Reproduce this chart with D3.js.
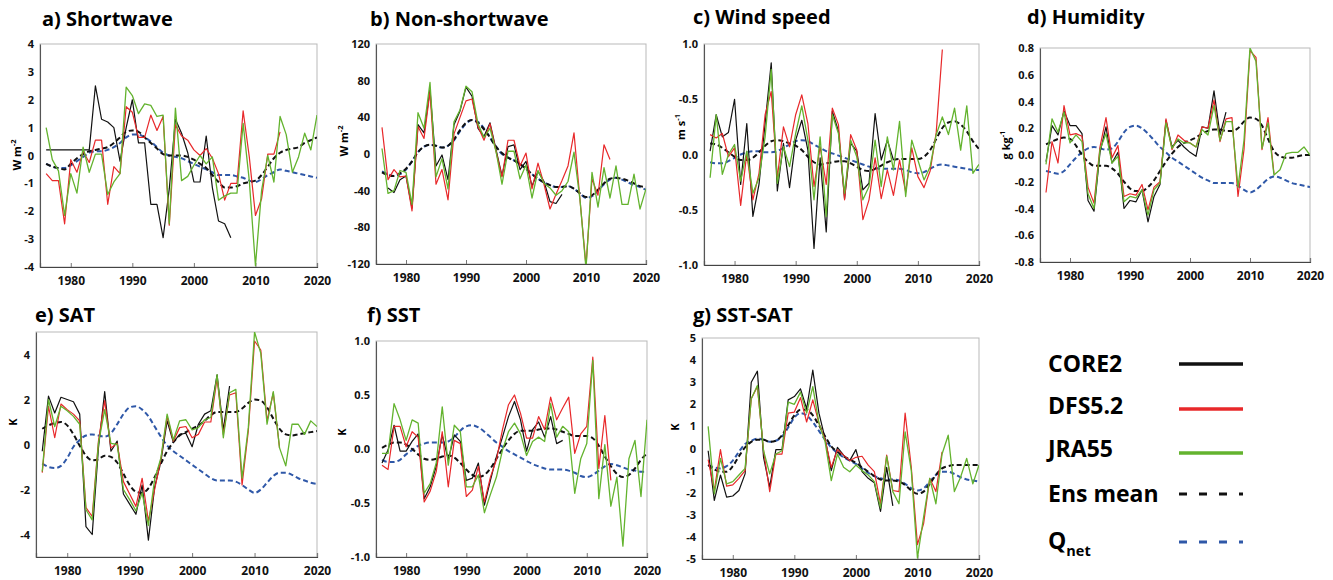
<!DOCTYPE html>
<html>
<head>
<meta charset="utf-8">
<script src="https://cdn.jsdelivr.net/npm/d3@7"></script>
<style>
  html, body { margin: 0; padding: 0; background: #fff; }
  svg { display: block; font-family: "Open Sans", "DejaVu Sans", sans-serif; }
</style>
</head>
<body>
<svg id="chart" width="1333" height="580"></svg>
<script>
// Annual anomalies, first value is 1976. CORE2 runs to 2006, DFS5.2 to 2014, JRA55 to 2020.
const startYear = 1976;
const endYear = 2020;

// a) Shortwave (W m-2)
const swCore = [0.2,0.2,0.2,0.2,0.2,0.2,0.2,0.2,2.5,1.3,1.2,1.0,-0.2,1.0,2.0,0.45,0.45,-1.75,-1.75,-2.95,-1.2,1.3,0.8,0.1,-0.95,-0.95,0.7,-1.15,-2.35,-2.45,-2.95];
const swDfs = [-0.65,-0.9,-0.9,-2.45,-0.15,-0.6,0.15,-0.25,0.55,0.55,-1.75,-0.4,-0.65,1.75,1.55,0.65,0.65,1.45,0.9,1.4,-2.5,1.1,0.7,0.55,0.2,0.0,0.25,-0.1,-0.65,-1.6,-1.0,-1.0,1.6,-0.05,-2.15,-1.55,0.05,0.05,0.85];
const swJra = [1.0,-0.15,-0.55,-2.15,-0.65,-1.35,0.3,-0.6,0.05,0.05,-1.4,-0.95,-0.65,2.45,2.15,1.5,1.85,1.8,1.4,1.45,-2.45,1.7,-0.9,-0.75,-0.35,0.0,-0.3,-0.05,-1.6,-1.45,-1.35,-1.35,1.15,-0.9,-3.95,-1.25,0.0,-0.95,1.4,0.75,-0.6,-0.05,0.8,0.2,1.45];
const swEns = [-0.3,-0.4,-0.45,-0.5,-0.3,-0.1,0.05,0.15,0.2,0.25,0.3,0.45,0.65,0.85,0.9,0.85,0.65,0.45,0.25,0.05,0.0,0.0,0.0,-0.05,-0.15,-0.3,-0.45,-0.7,-0.95,-1.15,-1.15,-1.1,-1.0,-0.95,-0.9,-0.7,-0.4,-0.1,0.1,0.2,0.25,0.3,0.45,0.55,0.65];
const swQnet = [-0.3,-0.4,-0.45,-0.45,-0.35,-0.2,-0.05,0.1,0.15,0.15,0.2,0.3,0.45,0.65,0.75,0.75,0.65,0.5,0.3,0.1,0.0,-0.05,-0.1,-0.2,-0.3,-0.4,-0.5,-0.6,-0.7,-0.7,-0.7,-0.75,-0.8,-0.9,-0.95,-0.85,-0.7,-0.6,-0.5,-0.55,-0.6,-0.65,-0.7,-0.75,-0.8];

// b) Non-shortwave (W m-2)
const nswCore = [null,-37,-42,-28,-24,-59,32,23,70,-13,-1,-28,32,47,73,63,28,19,34,5,-24,8,10,-17,-8,-35,-19,-30,-52,-54,-44];
const nswDfs = [29,-28,-17,-25,-24,-62,30,17,68,-33,-17,-50,22,40,58,60,30,15,33,3,-25,15,15,-13,1,-38,-10,-33,-60,-44,-29,-13,23,-50,-122,-27,-45,10,-6];
const nswJra = [6,-43,-40,-18,-20,-55,45,28,78,-25,-5,-38,35,48,74,68,33,18,28,3,-33,3,3,-27,-12,-48,-18,-32,-37,-45,-40,-30,2,-50,-125,-20,-58,-15,-48,-13,-55,-55,-22,-60,-38];
const nswEns = [-20,-23,-24,-21,-16,-8,2,8,10,9,7,9,16,26,34,37,34,27,18,8,1,-4,-7,-11,-16,-22,-27,-31,-34,-36,-36,-35,-38,-43,-47,-45,-39,-32,-27,-26,-27,-29,-32,-35,-36];
const nswQnet = [-19,-22,-24,-22,-17,-8,2,8,10,9,7,9,15,25,33,37,35,28,18,8,0,-4,-7,-11,-16,-22,-27,-31,-34,-36,-36,-35,-38,-43,-48,-46,-40,-33,-28,-26,-28,-31,-34,-36,-39];

// c) Wind speed (m s-1)
const wsCore = [0.03,0.36,0.16,0.2,0.5,-0.27,0.28,-0.56,-0.27,0.28,0.83,-0.33,0.1,-0.3,0.13,0.31,0.04,-0.85,-0.03,-0.7,0.39,0.21,-0.4,0.1,0.03,-0.32,-0.26,0.37,-0.05,0.13,-0.05];
const wsDfs = [0.18,0.15,0.19,-0.02,0.06,-0.46,0.01,-0.41,-0.17,0.36,0.57,-0.21,0.25,0.07,0.36,0.54,0.28,-0.29,0.07,-0.27,0.42,0.27,-0.41,0.18,0.04,-0.59,-0.41,-0.03,-0.4,-0.14,-0.37,-0.05,-0.34,0.06,-0.2,-0.3,-0.15,0.2,0.95];
const wsJra = [-0.21,0.36,-0.18,0.0,0.09,-0.24,0.03,-0.35,-0.21,0.16,0.77,-0.26,0.07,-0.11,0.19,0.44,0.13,-0.41,0.16,-0.56,0.36,0.19,-0.35,0.13,-0.02,-0.41,-0.29,0.13,-0.29,0.16,-0.14,0.3,-0.38,0.13,-0.05,-0.23,-0.11,0.18,0.34,0.18,0.42,0.04,0.44,-0.17,-0.09];
const wsEns = [0.1,0.09,0.06,0.02,-0.02,-0.05,-0.05,-0.03,0.02,0.08,0.12,0.13,0.12,0.1,0.08,0.04,-0.02,-0.07,-0.09,-0.08,-0.07,-0.06,-0.06,-0.08,-0.11,-0.14,-0.15,-0.13,-0.1,-0.07,-0.05,-0.04,-0.04,-0.04,-0.04,-0.02,0.04,0.14,0.24,0.29,0.3,0.27,0.21,0.12,0.05];
const wsQnet = [-0.07,-0.08,-0.08,-0.06,-0.03,0.0,0.02,0.03,0.03,0.02,0.02,0.03,0.06,0.09,0.12,0.13,0.12,0.09,0.06,0.03,0.01,-0.01,-0.03,-0.05,-0.07,-0.09,-0.11,-0.12,-0.13,-0.13,-0.13,-0.13,-0.14,-0.16,-0.17,-0.16,-0.13,-0.1,-0.09,-0.1,-0.11,-0.12,-0.13,-0.14,-0.14];

// d) Humidity (g kg-1)
const huCore = [-0.05,0.22,0.15,0.33,0.22,0.22,0.16,-0.34,-0.42,0.02,0.21,-0.06,0.02,-0.4,-0.34,-0.35,-0.26,-0.5,-0.31,-0.22,0.26,0.06,0.11,0.06,0.02,-0.01,0.21,0.2,0.48,0.15,0.32];
const huDfs = [-0.28,0.1,-0.06,0.37,0.15,0.16,0.14,-0.24,-0.36,0.06,0.28,-0.02,0.07,-0.31,-0.29,-0.3,-0.22,-0.41,-0.24,-0.2,0.27,0.04,0.15,0.11,0.09,0.06,0.21,0.2,0.41,0.1,0.27,0.28,-0.31,0.04,0.78,0.73,0.04,0.28,-0.14];
const huJra = [-0.07,0.27,0.17,0.32,0.09,0.15,0.1,-0.29,-0.4,0.04,0.16,-0.06,-0.01,-0.35,-0.31,-0.32,-0.26,-0.45,-0.26,-0.21,0.24,0.05,0.12,0.09,0.09,0.06,0.19,0.15,0.37,0.11,0.25,0.25,-0.24,0.11,0.8,0.7,0.05,0.24,-0.15,-0.11,0.01,0.02,0.02,0.06,0.0];
const huEns = [0.08,0.1,0.12,0.13,0.12,0.07,0.0,-0.05,-0.08,-0.08,-0.08,-0.1,-0.14,-0.2,-0.25,-0.27,-0.27,-0.24,-0.19,-0.12,-0.05,0.01,0.06,0.09,0.11,0.13,0.16,0.18,0.19,0.19,0.18,0.18,0.2,0.25,0.28,0.27,0.22,0.12,0.03,-0.01,-0.02,-0.02,-0.01,0.0,0.0];
const huQnet = [-0.12,-0.13,-0.14,-0.12,-0.07,-0.02,0.02,0.05,0.06,0.05,0.04,0.05,0.1,0.17,0.21,0.22,0.2,0.16,0.11,0.06,0.02,-0.02,-0.05,-0.08,-0.11,-0.14,-0.17,-0.19,-0.21,-0.21,-0.21,-0.21,-0.23,-0.26,-0.28,-0.26,-0.22,-0.18,-0.16,-0.17,-0.19,-0.21,-0.22,-0.23,-0.24];

// e) SAT (K)
const satCore = [-0.3,2.15,1.4,2.1,2.0,1.9,1.35,-3.65,-4.0,-0.15,2.35,-0.3,0.15,-2.2,-2.65,-3.1,-1.8,-4.25,-1.9,-0.75,1.05,0.1,0.45,0.5,-0.1,0.9,1.35,1.5,3.1,0.65,2.6];
const satDfs = [-1.25,1.7,0.3,1.8,1.55,1.35,1.05,-2.8,-3.2,0.15,1.95,-0.15,0.05,-1.65,-2.2,-2.75,-1.5,-3.4,-2.0,-0.65,1.25,0.15,0.75,0.8,0.3,0.45,1.0,1.0,2.95,0.45,2.2,2.3,-1.8,0.6,4.6,4.2,1.05,2.3,-0.15];
const satJra = [-1.2,2.0,0.8,1.7,1.5,1.25,0.9,-2.9,-3.35,0.05,1.55,0.05,0.0,-2.0,-2.45,-2.95,-2.15,-3.6,-1.55,-0.6,1.35,0.2,1.05,1.1,0.65,0.75,1.1,1.2,3.1,0.3,2.3,2.45,-1.5,0.75,5.0,4.05,0.9,2.35,-0.15,-0.95,0.9,0.9,0.45,1.05,0.8];
const satEns = [0.7,0.85,0.95,1.0,0.85,0.45,-0.05,-0.5,-0.7,-0.65,-0.5,-0.55,-0.8,-1.3,-1.8,-2.1,-2.15,-1.95,-1.45,-0.85,-0.3,0.1,0.4,0.55,0.7,0.85,1.05,1.3,1.45,1.45,1.45,1.45,1.6,1.85,2.0,1.95,1.65,1.15,0.7,0.45,0.4,0.45,0.5,0.55,0.6];
const satQnet = [-0.85,-1.0,-1.05,-0.95,-0.6,-0.1,0.2,0.4,0.45,0.4,0.35,0.5,0.9,1.35,1.65,1.7,1.55,1.25,0.8,0.35,-0.05,-0.3,-0.5,-0.7,-0.9,-1.1,-1.3,-1.5,-1.6,-1.6,-1.6,-1.65,-1.8,-2.0,-2.15,-2.0,-1.7,-1.4,-1.25,-1.25,-1.35,-1.5,-1.6,-1.7,-1.75];

// f) SST (K)
const sstCore = [-0.13,-0.01,0.22,-0.02,-0.02,0.07,0.14,-0.46,-0.35,-0.16,0.13,-0.1,0.13,0.07,-0.29,-0.27,-0.13,-0.52,-0.29,-0.07,0.11,0.3,0.44,0.27,-0.02,0.18,0.25,0.11,0.3,0.05,0.08];
const sstDfs = [-0.15,-0.19,0.21,0.21,0.02,0.16,0.11,-0.49,-0.39,-0.21,0.16,-0.35,0.08,0.05,-0.44,-0.38,-0.16,-0.49,-0.26,-0.1,0.18,0.41,0.5,0.33,0.1,0.1,0.3,0.18,0.48,0.27,0.38,0.48,-0.04,0.14,0.21,0.85,-0.18,0.31,-0.29];
const sstJra = [-0.04,-0.04,0.42,0.27,0.08,0.27,0.24,-0.41,-0.32,-0.13,0.39,-0.15,0.22,0.16,-0.35,-0.35,-0.24,-0.59,-0.42,-0.26,-0.01,0.16,0.24,0.14,-0.06,0.07,0.11,0.07,0.42,0.11,0.21,0.16,-0.41,-0.09,0.05,0.82,-0.46,0.04,-0.53,-0.26,-0.9,-0.09,0.08,-0.44,0.27];
const sstEns = [0.01,0.04,0.06,0.06,0.04,0.0,-0.05,-0.09,-0.1,-0.09,-0.07,-0.06,-0.08,-0.13,-0.19,-0.24,-0.26,-0.24,-0.18,-0.09,0.0,0.08,0.14,0.17,0.17,0.17,0.18,0.19,0.19,0.18,0.16,0.14,0.12,0.12,0.12,0.1,0.03,-0.07,-0.16,-0.23,-0.26,-0.24,-0.18,-0.1,-0.04];
const sstQnet = [-0.1,-0.12,-0.12,-0.1,-0.05,-0.01,0.03,0.05,0.06,0.06,0.06,0.07,0.11,0.17,0.21,0.22,0.2,0.16,0.11,0.06,0.02,-0.02,-0.05,-0.08,-0.11,-0.14,-0.16,-0.18,-0.19,-0.19,-0.19,-0.2,-0.22,-0.25,-0.26,-0.24,-0.2,-0.16,-0.14,-0.15,-0.17,-0.19,-0.2,-0.21,-0.21];

// g) SST-SAT (K)
const dtCore = [-0.1,-2.35,-1.2,-2.2,-2.15,-1.9,-1.15,3.0,3.5,-0.4,-1.75,-0.05,-0.05,2.2,2.35,2.7,1.8,3.55,1.6,0.45,-1.0,0.05,-0.3,-0.55,-0.05,-1.05,-1.35,-1.55,-2.85,-0.85,-2.6];
const dtDfs = [-0.5,-1.9,-0.05,-1.7,-1.65,-1.35,-1.0,2.25,2.8,-0.1,-1.95,-0.25,-0.25,1.6,1.65,2.3,1.2,2.2,1.15,0.4,-0.85,-0.05,-0.3,-0.55,-0.4,-0.35,-0.75,-1.05,-2.5,-0.3,-1.9,-1.95,1.6,-0.85,-4.35,-3.4,-1.35,-1.95,-0.15];
const dtJra = [1.0,-2.05,-0.45,-1.6,-1.5,-1.2,-0.9,2.25,2.85,-0.1,-1.15,-0.25,-0.1,2.1,2.0,2.55,1.6,2.8,1.15,0.3,-1.45,-0.25,-0.85,-1.05,-0.75,-1.0,-1.2,-1.5,-2.7,-0.35,-1.95,-2.5,0.75,-1.0,-4.95,-3.1,-1.35,-2.5,-0.25,0.6,-1.95,-1.3,-0.45,-1.6,-0.75];
const dtEns = [-0.75,-0.95,-1.05,-1.05,-0.8,-0.35,0.05,0.3,0.4,0.4,0.3,0.35,0.6,1.05,1.5,1.75,1.75,1.5,1.05,0.55,0.1,-0.15,-0.35,-0.5,-0.65,-0.85,-1.05,-1.25,-1.4,-1.45,-1.45,-1.5,-1.65,-1.9,-2.05,-1.95,-1.6,-1.2,-0.9,-0.8,-0.75,-0.75,-0.75,-0.75,-0.75];
const dtQnet = [-0.75,-0.85,-0.9,-0.8,-0.55,-0.15,0.2,0.35,0.45,0.4,0.3,0.35,0.55,0.95,1.4,1.6,1.5,1.2,0.8,0.4,0.05,-0.2,-0.4,-0.55,-0.7,-0.9,-1.1,-1.25,-1.35,-1.4,-1.4,-1.45,-1.6,-1.8,-1.9,-1.8,-1.5,-1.2,-1.05,-1.05,-1.15,-1.3,-1.4,-1.45,-1.5];

// Axis tick values and their printed labels
const yearTicks = [1980, 1990, 2000, 2010, 2020];
const swTicks = [4, 3, 2, 1, 0, -1, -2, -3, -4];
const swTickLabels = ["4", "3", "2", "1", "0", "-1", "-2", "-3", "-4"];
const nswTicks = [120, 80, 40, 0, -40, -80, -120];
const nswTickLabels = ["120", "80", "40", "0", "-40", "-80", "-120"];
const wsTicks = [1, 0.5, 0, -0.5, -1];
const wsTickLabels = ["1.0", "-0.5", "0.0", "-0.5", "-1.0"];
const huTicks = [0.8, 0.6, 0.4, 0.2, 0, -0.2, -0.4, -0.6, -0.8];
const huTickLabels = ["0.8", "0.6", "0.4", "0.2", "0.0", "-0.2", "-0.4", "-0.6", "-0.8"];
const satTicks = [4, 2, 0, -2, -4];
const satTickLabels = ["4", "2", "0", "-2", "-4"];
const sstTicks = [1, 0.5, 0, -0.5, -1];
const sstTickLabels = ["1.0", "0.5", "0.0", "-0.5", "-1.0"];
const dtTicks = [5, 4, 3, 2, 1, 0, -1, -2, -3, -4, -5];
const dtTickLabels = ["5", "4", "3", "2", "1", "0", "-1", "-2", "-3", "-4", "-5"];

const legendNames = ["CORE2", "DFS5.2", "JRA55", "Ens mean", "Q"];

// Styling
const colors = { core: "#111111", dfs: "#e8282a", jra: "#63b32e", ens: "#111111", qnet: "#2f58a8" };

const panels = [
  { title: "a) Shortwave", unit: ["W m", "-2"], box: [40, 44, 317, 267], yDomain: [-4, 4], ticks: swTicks, labels: swTickLabels,
    titlePos: [42, 26], unitPos: [18, 155], data: [swCore, swDfs, swJra, swEns, swQnet] },
  { title: "b) Non-shortwave", unit: ["W m", "-2"], box: [376, 44, 646, 264], yDomain: [-120, 120], ticks: nswTicks, labels: nswTickLabels,
    titlePos: [370, 26], unitPos: [345, 141], data: [nswCore, nswDfs, nswJra, nswEns, nswQnet] },
  { title: "c) Wind speed", unit: ["m s", "-1"], box: [704, 44, 979, 265], yDomain: [-1, 1], ticks: wsTicks, labels: wsTickLabels,
    titlePos: [693, 24], unitPos: [682, 127], data: [wsCore, wsDfs, wsJra, wsEns, wsQnet] },
  { title: "d) Humidity", unit: ["g kg", "-1"], box: [1040, 48, 1310, 262], yDomain: [-0.8, 0.8], ticks: huTicks, labels: huTickLabels,
    titlePos: [1027, 24], unitPos: [1007, 145], data: [huCore, huDfs, huJra, huEns, huQnet] },
  { title: "e) SAT", unit: ["K", ""], box: [36, 332, 317, 557], yDomain: [-5, 5], ticks: satTicks, labels: satTickLabels,
    titlePos: [35, 322], unitPos: [14, 422], data: [satCore, satDfs, satJra, satEns, satQnet] },
  { title: "f) SST", unit: ["K", ""], box: [376, 341, 647, 557], yDomain: [-1, 1], ticks: sstTicks, labels: sstTickLabels,
    titlePos: [367, 322], unitPos: [343, 432], data: [sstCore, sstDfs, sstJra, sstEns, sstQnet] },
  { title: "g) SST-SAT", unit: ["K", ""], box: [702, 338, 979, 559], yDomain: [-5, 5], ticks: dtTicks, labels: dtTickLabels,
    titlePos: [693, 322], unitPos: [676, 427], data: [dtCore, dtDfs, dtJra, dtEns, dtQnet] }
];

const seriesStyle = [
  { color: colors.core, width: 1.2, dash: null },
  { color: colors.dfs, width: 1.2, dash: null },
  { color: colors.jra, width: 1.3, dash: null },
  { color: colors.ens, width: 2, dash: "5,3" },
  { color: colors.qnet, width: 2, dash: "5,3" }
];
const drawOrder = [4, 3, 0, 1, 2];

const svg = d3.select("#chart");
const defs = svg.append("defs");

panels.forEach((p, pi) => {
  const [l, t, r, b] = p.box;
  const x = d3.scaleLinear().domain([1975, endYear]).range([l, r]);
  const y = d3.scaleLinear().domain(p.yDomain).range([b, t]);
  const g = svg.append("g");

  // light frame
  g.append("rect").attr("x", l).attr("y", t).attr("width", r - l).attr("height", b - t)
    .attr("fill", "none").attr("stroke", "#b9b9b9").attr("stroke-width", 1);

  const clipId = "clip" + pi;
  defs.append("clipPath").attr("id", clipId)
    .append("rect").attr("x", l).attr("y", t).attr("width", r - l).attr("height", b - t);

  // bottom axis with short inward ticks
  const xAxis = d3.axisBottom(x).tickValues(yearTicks).tickSize(-4).tickPadding(9).tickFormat(d3.format("d"));
  const xg = g.append("g").attr("transform", `translate(0,${b})`).call(xAxis);
  xg.select(".domain").attr("stroke", "#444").attr("stroke-width", 1.2);
  xg.selectAll(".tick line").attr("stroke", "#777");
  xg.selectAll("text").attr("font-size", 12).attr("font-weight", 700).attr("fill", "#111")
    .attr("font-family", "'Open Sans', sans-serif");

  // left axis
  const yAxis = d3.axisLeft(y).tickValues(p.ticks).tickSize(0).tickPadding(6)
    .tickFormat((d, i) => p.labels[i]);
  const yg = g.append("g").attr("transform", `translate(${l},0)`).call(yAxis);
  yg.select(".domain").attr("stroke", "#555").attr("stroke-width", 1.1);
  yg.selectAll("text").attr("font-size", 11).attr("font-weight", 700).attr("fill", "#111")
    .attr("font-family", "'Open Sans', sans-serif");

  // series
  const lines = g.append("g").attr("clip-path", `url(#${clipId})`);
  drawOrder.forEach(si => {
    const vals = p.data[si];
    const pts = vals.map((v, i) => ({ year: startYear + i, v }));
    const line = d3.line()
      .defined(d => d.v !== null)
      .x(d => x(d.year)).y(d => y(d.v))
      .curve(si >= 3 ? d3.curveMonotoneX : d3.curveLinear);
    const st = seriesStyle[si];
    lines.append("path").datum(pts)
      .attr("d", line).attr("fill", "none")
      .attr("stroke", st.color).attr("stroke-width", st.width)
      .attr("stroke-linejoin", "round")
      .attr("stroke-dasharray", st.dash);
  });

  // title
  svg.append("text").attr("x", p.titlePos[0]).attr("y", p.titlePos[1])
    .attr("font-size", 20).attr("font-weight", 700).attr("fill", "#000").text(p.title);

  // unit label
  const ut = svg.append("text")
    .attr("transform", `translate(${p.unitPos[0]},${p.unitPos[1]}) rotate(-90)`)
    .attr("text-anchor", "middle").attr("dominant-baseline", "middle")
    .attr("font-size", 11).attr("font-weight", 700).attr("fill", "#000");
  ut.append("tspan").text(p.unit[0]);
  if (p.unit[1]) ut.append("tspan").attr("font-size", 7.5).attr("dy", -4).text(p.unit[1]);
});

// Legend
const legendText = [372, 414, 457, 502, 549];
const legendLineY = [364, 409, 453, 494, 542];
const legendG = svg.append("g");
legendNames.forEach((name, i) => {
  const t = legendG.append("text").attr("x", 1048).attr("y", legendText[i])
    .attr("font-size", 23).attr("font-weight", 700).attr("fill", "#000");
  t.append("tspan").text(name);
  if (i === 4) t.append("tspan").attr("font-size", 14.5).attr("dy", 7).text("net");
  const st = seriesStyle[i];
  legendG.append("line").attr("x1", 1179).attr("x2", 1243)
    .attr("y1", legendLineY[i]).attr("y2", legendLineY[i])
    .attr("stroke", st.color).attr("stroke-width", i >= 3 ? 3 : 3.5)
    .attr("stroke-dasharray", i >= 3 ? "8,12" : null);
});
</script>
</body>
</html>
